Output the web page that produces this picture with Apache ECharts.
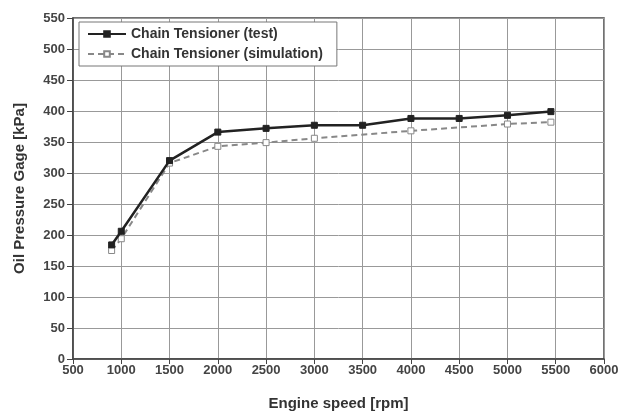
<!DOCTYPE html>
<html>
<head>
<meta charset="utf-8">
<script src="https://cdn.jsdelivr.net/npm/echarts@6/dist/echarts.min.js"></script>
<style>
  html, body { margin: 0; padding: 0; background: #fff; }
  #chart { width: 623px; height: 414px; }
</style>
</head>
<body>
<div id="chart"></div>
<script>
// engine speed [rpm] / oil pressure [kPa]
const testRpm = [900, 1000, 1500, 2000, 2500, 3000, 3500, 4000, 4500, 5000, 5450];
const testKpa = [184, 206, 320, 366, 372, 377, 377, 388, 388, 393, 399];
const simRpm = [900, 1000, 1500, 2000, 2500, 3000, 4000, 5000, 5450];
const simKpa = [175, 194, 316, 343, 349, 356, 368, 379, 382];

const font = "Liberation Sans, Arial, sans-serif";
const pairs = (xs, ys) => xs.map((x, i) => [x, ys[i]]);

const chart = echarts.init(document.getElementById("chart"));
chart.setOption({
  animation: false,
  backgroundColor: "#fff",
  grid: {
    left: 73, right: 19, top: 18, bottom: 55,
    outerBoundsMode: "none",
    show: true, borderColor: "#444", borderWidth: 1.5
  },
  legend: {
    orient: "vertical",
    left: 79,
    top: 22,
    padding: [5, 14, 5, 8],
    itemGap: 6,
    itemWidth: 38,
    itemHeight: 7,
    backgroundColor: "#fff",
    borderColor: "#777",
    borderWidth: 1,
    textStyle: { fontFamily: font, fontWeight: "bold", fontSize: 14, color: "#333" },
    data: ["Chain Tensioner (test)", "Chain Tensioner (simulation)"]
  },
  xAxis: {
    type: "value",
    min: 500, max: 6000, interval: 500,
    name: "Engine speed [rpm]",
    nameLocation: "middle",
    nameGap: 37,
    nameTextStyle: { fontFamily: font, fontWeight: "bold", fontSize: 15, color: "#333" },
    axisLine: { lineStyle: { color: "#444", width: 1.5 } },
    axisTick: { inside: false, length: 5, lineStyle: { color: "#444" } },
    axisLabel: { fontFamily: font, fontWeight: "bold", fontSize: 13, color: "#444", margin: 5, formatter: v => String(v) },
    splitLine: { lineStyle: { color: "#999", width: 1 } }
  },
  yAxis: {
    type: "value",
    min: 0, max: 550, interval: 50,
    name: "Oil Pressure Gage [kPa]",
    nameLocation: "middle",
    nameGap: 46,
    nameTextStyle: { fontFamily: font, fontWeight: "bold", fontSize: 15, color: "#333" },
    axisLine: { show: true, lineStyle: { color: "#444", width: 1.5 } },
    axisTick: { show: true, length: 6, lineStyle: { color: "#444" } },
    axisLabel: { fontFamily: font, fontWeight: "bold", fontSize: 13, color: "#444", margin: 8 },
    splitLine: { lineStyle: { color: "#999", width: 1 } }
  },
  series: [
    {
      name: "Chain Tensioner (test)",
      type: "line",
      data: pairs(testRpm, testKpa),
      symbol: "rect",
      symbolSize: 6,
      z: 3,
      lineStyle: { color: "#222", width: 2.5 },
      itemStyle: { color: "#222", borderColor: "#222", borderWidth: 1 }
    },
    {
      name: "Chain Tensioner (simulation)",
      type: "line",
      data: pairs(simRpm, simKpa),
      symbol: "rect",
      symbolSize: 6,
      z: 2,
      lineStyle: { color: "#888", width: 2, type: [6, 4] },
      itemStyle: { color: "#fff", borderColor: "#888", borderWidth: 1 }
    }
  ]
});
</script>
</body>
</html>
